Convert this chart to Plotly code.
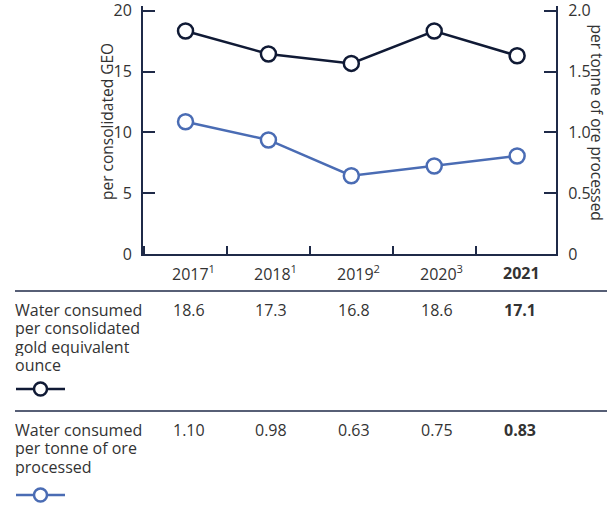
import plotly.graph_objects as go

# ---- data ----
years = ["2017", "2018", "2019", "2020", "2021"]
year_notes = ["1", "1", "2", "3", ""]
# positions of the points as drawn in the chart
geo_plotted = [18.34, 16.45, 15.68, 18.34, 16.31]
ore_plotted = [1.088, 0.938, 0.644, 0.724, 0.806]
# values printed in the table
geo_table = ["18.6", "17.3", "16.8", "18.6", "17.1"]
ore_table = ["1.10", "0.98", "0.63", "0.75", "0.83"]
left_ticks = [0, 5, 10, 15, 20]
right_ticks = [0, 0.5, 1.0, 1.5, 2.0]
right_tick_text = ["0", "0.5", "1.0", "1.5", "2.0"]
row1_label = ["Water consumed", "per consolidated", "gold equivalent", "ounce"]
row2_label = ["Water consumed", "per tonne of ore", "processed"]
left_title = "per consolidated GEO"
right_title = "per tonne of ore processed"

# ---- style ----
W, H = 607, 511
PL, PR, PT, PB = 143, 556, 6, 254
DARK = "#101a35"
BLUE = "#4a6cb4"
AXIS = "#1f2a48"
TXT = "#333333"
FONT = "Open Sans"

def px(xp):
    return (xp - PL) / (PR - PL)

def py(yp):
    return (PB - yp) / (PB - PT)

xi = list(range(len(years)))

fig = go.Figure()
fig.add_trace(go.Scatter(
    x=xi, y=geo_plotted, mode="lines+markers",
    line=dict(color=DARK, width=2.5),
    marker=dict(size=15, color="white", line=dict(color=DARK, width=2.5)),
    showlegend=False, cliponaxis=False))
fig.add_trace(go.Scatter(
    x=xi, y=ore_plotted, mode="lines+markers", yaxis="y2",
    line=dict(color=BLUE, width=2.5),
    marker=dict(size=15, color="white", line=dict(color=BLUE, width=2.5)),
    showlegend=False, cliponaxis=False))

ann = []
# x category labels
for i, (y, n) in enumerate(zip(years, year_notes)):
    t = f"<b>{y}</b>" if i == len(years) - 1 else (y + (f"<sup>{n}</sup>" if n else ""))
    ann.append(dict(x=i, xref="x", y=py(273), yref="paper", text=t, showarrow=False,
                    xanchor="left", yanchor="middle", xshift=-16,
                    font=dict(family=FONT, size=16, color=TXT)))
# table values
for i, (a, b) in enumerate(zip(geo_table, ore_table)):
    last = i == len(years) - 1
    ann.append(dict(x=i, xref="x", y=py(310), yref="paper",
                    text=f"<b>{a}</b>" if last else a, showarrow=False,
                    xanchor="left", yanchor="middle", xshift=-15,
                    font=dict(family=FONT, size=16, color=TXT)))
    ann.append(dict(x=i, xref="x", y=py(430), yref="paper",
                    text=f"<b>{b}</b>" if last else b, showarrow=False,
                    xanchor="left", yanchor="middle", xshift=-15,
                    font=dict(family=FONT, size=16, color=TXT)))
# row labels
for k, line in enumerate(row1_label):
    ann.append(dict(x=px(14), xref="paper", y=py(310 + 18.4 * k), yref="paper",
                    text=line, showarrow=False, xanchor="left", yanchor="middle",
                    height=18, borderpad=0,
                    font=dict(family=FONT, size=16, color=TXT)))
for k, line in enumerate(row2_label):
    ann.append(dict(x=px(14), xref="paper", y=py(430 + 18.4 * k), yref="paper",
                    text=line, showarrow=False, xanchor="left", yanchor="middle",
                    height=18, borderpad=0,
                    font=dict(family=FONT, size=16, color=TXT)))
# axis titles
ann.append(dict(x=px(107), xref="paper", y=py(122), yref="paper", text=left_title,
                textangle=-90, showarrow=False, xanchor="center", yanchor="middle",
                font=dict(family=FONT, size=15.5, color=TXT)))
ann.append(dict(x=px(596.5), xref="paper", y=py(122), yref="paper", text=right_title,
                textangle=90, showarrow=False, xanchor="center", yanchor="middle",
                font=dict(family=FONT, size=15.5, color=TXT)))

shapes = []
# table rules
for yy in (291, 411):
    shapes.append(dict(type="line", xref="paper", yref="paper",
                       x0=px(15), x1=px(607), y0=py(yy), y1=py(yy),
                       line=dict(color=AXIS, width=1.5)))
# legend glyphs
for yy, col in ((389, DARK), (495, BLUE)):
    shapes.append(dict(type="line", xref="paper", yref="paper",
                       x0=px(16), x1=px(65), y0=py(yy), y1=py(yy),
                       line=dict(color=col, width=2.5)))
    shapes.append(dict(type="circle", xref="paper", yref="paper",
                       x0=px(34), x1=px(47), y0=py(yy + 6.5), y1=py(yy - 6.5),
                       fillcolor="white", line=dict(color=col, width=2.5)))

fig.update_layout(
    template="none",
    width=W, height=H,
    margin=dict(l=PL, r=W - PR, t=PT, b=H - PB, pad=0, autoexpand=False),
    paper_bgcolor="white", plot_bgcolor="white",
    font=dict(family=FONT, size=16, color=TXT),
    xaxis=dict(range=[-0.513, 4.469], showgrid=False, zeroline=False, automargin=False,
               showline=True, linecolor=AXIS, linewidth=2,
               showticklabels=False, ticks="",
               minor=dict(tick0=0.5, dtick=1, ticks="inside", ticklen=8,
                          tickcolor=AXIS, tickwidth=1.5, showgrid=False)),
    yaxis=dict(range=[0, 20.4], tickvals=left_ticks, showgrid=False, zeroline=False,
               automargin=False,
               showline=True, linecolor=AXIS, linewidth=2,
               ticks="inside", ticklen=12, tickcolor=AXIS, tickwidth=1.5,
               ticklabeloverflow="allow",
               ticklabelstandoff=6, tickfont=dict(family=FONT, size=16, color=TXT)),
    yaxis2=dict(range=[0, 2.04], overlaying="y", side="right",
                tickvals=right_ticks, ticktext=right_tick_text,
                showgrid=False, zeroline=False, automargin=False,
                showline=True, linecolor=AXIS, linewidth=2,
                ticks="inside", ticklen=12, tickcolor=AXIS, tickwidth=1.5,
                ticklabeloverflow="allow",
                ticklabelstandoff=7, tickfont=dict(family=FONT, size=16, color=TXT)),
    annotations=ann, shapes=shapes, showlegend=False,
)

fig.write_html("out.html")
